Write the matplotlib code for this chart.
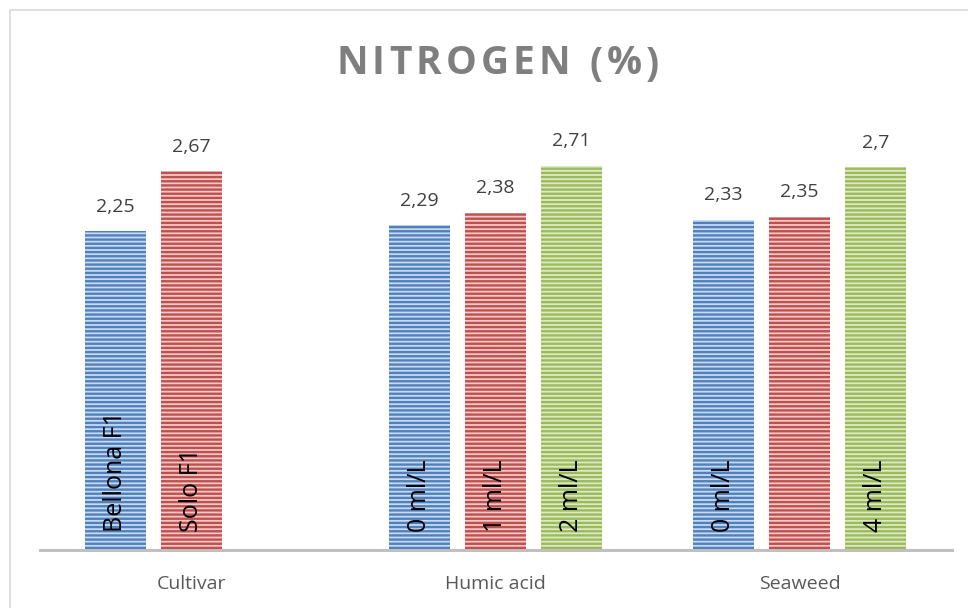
import matplotlib
matplotlib.use('Agg')
import matplotlib.pyplot as plt
from matplotlib.patches import Rectangle
from matplotlib.font_manager import FontProperties

# data
categories = ['Cultivar', 'Humic acid', 'Seaweed']
blue_vals = [2.25, 2.29, 2.33]
red_vals = [2.67, 2.38, 2.35]
green_vals = [None, 2.71, 2.70]
blue_names = ['Bellona F1', '0 ml/L', '0 ml/L']
red_names = ['Solo F1', '1 ml/L', '']
green_names = ['', '2 ml/L', '4 ml/L']
title = 'NITROGEN (%)'

series = [
    (blue_vals, blue_names, '#c9d9f0', '#4f81bd', -0.25),
    (red_vals, red_names, '#f1c9c8', '#c0504d', 0.0),
    (green_vals, green_names, '#dde9c6', '#9bbb59', 0.25),
]

plt.rcParams['font.family'] = ['Open Sans', 'DejaVu Sans']
plt.rcParams['hatch.linewidth'] = 1.7

fig = plt.figure(figsize=(9.68, 6.08), dpi=100)
# outer chart border
fig.patches.append(Rectangle((10 / 968, -0.1), 1.2, 1.1 - 10 / 608,
                             transform=fig.transFigure, fill=False,
                             edgecolor='#d9d9d9', linewidth=1.2))

ax = fig.add_axes([39.5 / 968, 1 - 550 / 608, 912 / 968, (550 - 124.6) / 608])

for vals, names, face, stripe, off in series:
    for i, v in enumerate(vals):
        if v is None:
            continue
        x = i + off
        ax.bar(x, v, width=0.2, color=face, edgecolor=stripe, linewidth=0,
               hatch='----')
        ax.annotate(f'{v:g}'.replace('.', ','), (x, v), xytext=(0, 11),
                    textcoords='offset points', ha='center', va='bottom',
                    fontsize=14, color='#404040')
        if names[i]:
            ax.annotate(names[i], (x, 0), xytext=(0, 13),
                        textcoords='offset points', ha='center', va='bottom',
                        rotation=90, fontsize=18, color='black')

ax.set_xlim(-0.5, 2.5)
ax.set_ylim(0, 3)
ax.set_xticks(range(len(categories)))
ax.set_xticklabels(categories, fontsize=14, color='#595959')
ax.tick_params(axis='x', length=0, pad=18)
ax.set_yticks([])
for s in ['top', 'right', 'left']:
    ax.spines[s].set_visible(False)
ax.spines['bottom'].set_color('#c0c0c0')
ax.spines['bottom'].set_linewidth(2.2)

# title with letter spacing, drawn char by char
prop = FontProperties(family='Open Sans', weight='bold', size=28)
renderer = fig.canvas.get_renderer()
widths = [renderer.get_text_width_height_descent(c, prop, ismath=False)[0]
          for c in title]
left, right = 336, 659
gap = (right - left - sum(widths)) / (len(title) - 1)
xpos = left
for c, w in zip(title, widths):
    fig.text(xpos / 968, 1 - 64 / 608, c, ha='left', va='center',
             fontproperties=prop, color='#7f7f7f')
    xpos += w + gap

plt.savefig('out.png', dpi=100)
